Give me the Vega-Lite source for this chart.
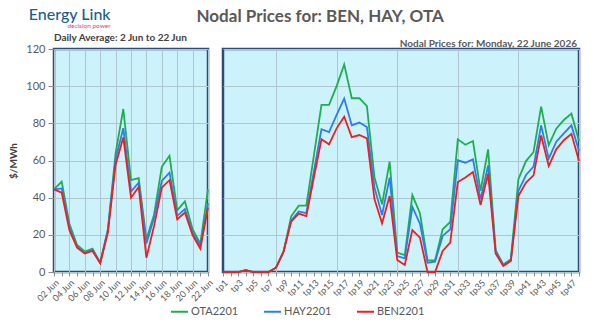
{
  "$schema": "https://vega.github.io/schema/vega-lite/v6.json",
  "background": "white",
  "padding": {"left": 7, "top": 7, "right": 20, "bottom": 2},
  "datasets": {
    "daily": [
      {"day": "02 Jun", "OTA2201": 44.5, "HAY2201": 44.5, "BEN2201": 44.5},
      {"day": "03 Jun", "OTA2201": 48.7, "HAY2201": 45, "BEN2201": 42.7},
      {"day": "04 Jun", "OTA2201": 26, "HAY2201": 24, "BEN2201": 22.5},
      {"day": "05 Jun", "OTA2201": 14.5, "HAY2201": 13.5, "BEN2201": 13.1},
      {"day": "06 Jun", "OTA2201": 11, "HAY2201": 10.2, "BEN2201": 9.9},
      {"day": "07 Jun", "OTA2201": 12.6, "HAY2201": 11.9, "BEN2201": 11.3},
      {"day": "08 Jun", "OTA2201": 5, "HAY2201": 5, "BEN2201": 4.7},
      {"day": "09 Jun", "OTA2201": 23, "HAY2201": 22.5, "BEN2201": 21.2},
      {"day": "10 Jun", "OTA2201": 64, "HAY2201": 60.7, "BEN2201": 57.7},
      {"day": "11 Jun", "OTA2201": 87.7, "HAY2201": 77.4, "BEN2201": 72.4},
      {"day": "12 Jun", "OTA2201": 49.4, "HAY2201": 43.3, "BEN2201": 40},
      {"day": "13 Jun", "OTA2201": 50.5, "HAY2201": 48.1, "BEN2201": 45.8},
      {"day": "14 Jun", "OTA2201": 17.6, "HAY2201": 15.3, "BEN2201": 7.7},
      {"day": "15 Jun", "OTA2201": 31, "HAY2201": 29.3, "BEN2201": 24.8},
      {"day": "16 Jun", "OTA2201": 56.6, "HAY2201": 49, "BEN2201": 45.4},
      {"day": "17 Jun", "OTA2201": 62.5, "HAY2201": 53.5, "BEN2201": 49.4},
      {"day": "18 Jun", "OTA2201": 33.2, "HAY2201": 30.2, "BEN2201": 28.4},
      {"day": "19 Jun", "OTA2201": 38, "HAY2201": 33.8, "BEN2201": 32},
      {"day": "20 Jun", "OTA2201": 23, "HAY2201": 21.2, "BEN2201": 19.9},
      {"day": "21 Jun", "OTA2201": 15.3, "HAY2201": 14, "BEN2201": 12.6},
      {"day": "22 Jun", "OTA2201": 44.5, "HAY2201": 37, "BEN2201": 34.7}
    ],
    "periods": [
      {"tp": "tp1", "OTA2201": 0, "HAY2201": 0, "BEN2201": 0},
      {"tp": "tp2", "OTA2201": 0, "HAY2201": 0, "BEN2201": 0},
      {"tp": "tp3", "OTA2201": 0, "HAY2201": 0, "BEN2201": 0},
      {"tp": "tp4", "OTA2201": 1, "HAY2201": 1, "BEN2201": 1},
      {"tp": "tp5", "OTA2201": 0, "HAY2201": 0, "BEN2201": 0},
      {"tp": "tp6", "OTA2201": 0, "HAY2201": 0, "BEN2201": 0},
      {"tp": "tp7", "OTA2201": 0, "HAY2201": 0, "BEN2201": 0},
      {"tp": "tp8", "OTA2201": 2.3, "HAY2201": 2.3, "BEN2201": 2.3},
      {"tp": "tp9", "OTA2201": 11, "HAY2201": 11, "BEN2201": 11},
      {"tp": "tp10", "OTA2201": 30, "HAY2201": 27.8, "BEN2201": 27.1},
      {"tp": "tp11", "OTA2201": 35.7, "HAY2201": 32.6, "BEN2201": 31.4},
      {"tp": "tp12", "OTA2201": 35.7, "HAY2201": 31.7, "BEN2201": 30.1},
      {"tp": "tp13", "OTA2201": 62.8, "HAY2201": 54.3, "BEN2201": 50.8},
      {"tp": "tp14", "OTA2201": 89.9, "HAY2201": 76.8, "BEN2201": 71.4},
      {"tp": "tp15", "OTA2201": 89.9, "HAY2201": 75.3, "BEN2201": 68.7},
      {"tp": "tp16", "OTA2201": 100, "HAY2201": 84.5, "BEN2201": 77.3},
      {"tp": "tp17", "OTA2201": 111.7, "HAY2201": 93.3, "BEN2201": 83.6},
      {"tp": "tp18", "OTA2201": 93.5, "HAY2201": 78.9, "BEN2201": 72.6},
      {"tp": "tp19", "OTA2201": 93.5, "HAY2201": 80.4, "BEN2201": 73.7},
      {"tp": "tp20", "OTA2201": 89.3, "HAY2201": 78, "BEN2201": 71.9},
      {"tp": "tp21", "OTA2201": 50.8, "HAY2201": 45.4, "BEN2201": 39.1},
      {"tp": "tp22", "OTA2201": 36.4, "HAY2201": 30.7, "BEN2201": 26.2},
      {"tp": "tp23", "OTA2201": 59.4, "HAY2201": 50.8, "BEN2201": 40.9},
      {"tp": "tp24", "OTA2201": 10.4, "HAY2201": 8.6, "BEN2201": 6.5},
      {"tp": "tp25", "OTA2201": 9.1, "HAY2201": 7.4, "BEN2201": 3.8},
      {"tp": "tp26", "OTA2201": 41.4, "HAY2201": 35, "BEN2201": 22.6},
      {"tp": "tp27", "OTA2201": 31.6, "HAY2201": 26, "BEN2201": 18.5},
      {"tp": "tp28", "OTA2201": 6.3, "HAY2201": 5, "BEN2201": 0},
      {"tp": "tp29", "OTA2201": 6.3, "HAY2201": 5.6, "BEN2201": 0},
      {"tp": "tp30", "OTA2201": 23, "HAY2201": 19.4, "BEN2201": 11.3},
      {"tp": "tp31", "OTA2201": 26.9, "HAY2201": 23, "BEN2201": 15.8},
      {"tp": "tp32", "OTA2201": 71.4, "HAY2201": 60.1, "BEN2201": 48.4},
      {"tp": "tp33", "OTA2201": 68.5, "HAY2201": 58.8, "BEN2201": 50.8},
      {"tp": "tp34", "OTA2201": 70.5, "HAY2201": 60.6, "BEN2201": 53.8},
      {"tp": "tp35", "OTA2201": 43.6, "HAY2201": 39.1, "BEN2201": 36.1},
      {"tp": "tp36", "OTA2201": 66, "HAY2201": 57.4, "BEN2201": 52.9},
      {"tp": "tp37", "OTA2201": 11.7, "HAY2201": 10.9, "BEN2201": 9.9},
      {"tp": "tp38", "OTA2201": 4.1, "HAY2201": 3.8, "BEN2201": 3.2},
      {"tp": "tp39", "OTA2201": 6.8, "HAY2201": 6.3, "BEN2201": 5.9},
      {"tp": "tp40", "OTA2201": 49.9, "HAY2201": 43.6, "BEN2201": 40.9},
      {"tp": "tp41", "OTA2201": 59.7, "HAY2201": 52.2, "BEN2201": 48.1},
      {"tp": "tp42", "OTA2201": 64.6, "HAY2201": 56.7, "BEN2201": 52},
      {"tp": "tp43", "OTA2201": 89, "HAY2201": 78.9, "BEN2201": 73.5},
      {"tp": "tp44", "OTA2201": 68.3, "HAY2201": 61, "BEN2201": 57},
      {"tp": "tp45", "OTA2201": 77.1, "HAY2201": 70.1, "BEN2201": 66},
      {"tp": "tp46", "OTA2201": 81.8, "HAY2201": 74.6, "BEN2201": 70.9},
      {"tp": "tp47", "OTA2201": 85.2, "HAY2201": 78.9, "BEN2201": 74.4},
      {"tp": "tp48", "OTA2201": 70.5, "HAY2201": 65.1, "BEN2201": 59.7}
    ]
  },
  "title": {
    "text": "Energy Link",
    "subtitle": "decision power",
    "anchor": "start",
    "frame": "bounds",
    "align": "right",
    "dx": 103,
    "offset": -22,
    "font": "Lato",
    "fontSize": 16,
    "fontWeight": 500,
    "color": "#1F5C8B",
    "subtitleFont": "Lato",
    "subtitleFontSize": 6.5,
    "subtitleColor": "#E0457B",
    "subtitlePadding": 0
  },
  "vconcat": [
    {
      "title": {
        "text": "Nodal Prices for: BEN, HAY, OTA",
        "anchor": "middle",
        "frame": "bounds",
        "dx": 23,
        "offset": 6,
        "font": "Lato",
        "fontSize": 17,
        "fontWeight": "bold",
        "color": "#595959"
      },
      "spacing": -4,
      "hconcat": [
        {
          "width": 154,
          "height": 223,
          "data": {"name": "daily"},
          "transform": [{"fold": ["OTA2201", "HAY2201", "BEN2201"], "as": ["series", "price"]}],
          "title": {
            "text": "Daily Average: 2 Jun to 22 Jun",
            "anchor": "start",
            "frame": "group",
            "offset": 0,
            "fontSize": 10,
            "fontWeight": "bold",
            "color": "#404040"
          },
          "view": {"fill": "#CCF3FB", "stroke": "#2F4A78", "strokeWidth": 2.5},
          "mark": {"type": "line", "strokeWidth": 1.8},
          "encoding": {
            "x": {
              "field": "day",
              "type": "ordinal",
              "sort": null,
              "scale": {"padding": 0},
              "axis": {
                "title": null,
                "labelAngle": -45,
                "labelFontSize": 9,
                "labelExpr": "parseInt(substring(datum.value,0,2)) % 2 == 0 ? datum.value : ''",
                "grid": true,
                "gridOpacity": {"condition": {"test": "parseInt(substring(datum.value,0,2)) % 2 == 0", "value": 1}, "value": 0},
                "tickSize": 4
              }
            },
            "y": {
              "field": "price",
              "type": "quantitative",
              "scale": {"domain": [0, 120], "nice": false},
              "axis": {
                "title": "$/MWh",
                "titleFontSize": 10,
                "titleFontWeight": "bold",
                "titleColor": "#404040",
                "titlePadding": 7,
                "values": [0, 20, 40, 60, 80, 100, 120],
                "labelFontSize": 11,
                "tickSize": 6,
                "labelPadding": 3
              }
            },
            "color": {
              "field": "series",
              "type": "nominal",
              "scale": {"domain": ["OTA2201", "HAY2201", "BEN2201"], "range": ["#1DAF4E", "#2A7DF4", "#F01E1E"]},
              "legend": {"title": null}
            }
          }
        },
        {
          "width": 356,
          "height": 223,
          "data": {"name": "periods"},
          "transform": [{"fold": ["OTA2201", "HAY2201", "BEN2201"], "as": ["series", "price"]}],
          "title": {
            "text": "Nodal Prices for: Monday, 22 June 2026",
            "anchor": "end",
            "frame": "group",
            "offset": 0,
            "dx": -2,
            "fontSize": 10,
            "fontWeight": "bold",
            "color": "#595959"
          },
          "view": {"fill": "#CCF3FB", "stroke": "#2F4A78", "strokeWidth": 2.5},
          "mark": {"type": "line", "strokeWidth": 1.8},
          "encoding": {
            "x": {
              "field": "tp",
              "type": "ordinal",
              "sort": null,
              "scale": {"padding": 0},
              "axis": {
                "title": null,
                "labelAngle": -45,
                "labelFontSize": 9,
                "labelExpr": "parseInt(substring(datum.value,2)) % 2 == 1 ? datum.value : ''",
                "grid": true,
                "gridOpacity": {"condition": {"test": "parseInt(substring(datum.value,2)) % 8 == 0", "value": 1}, "value": 0},
                "tickSize": 4
              }
            },
            "y": {
              "field": "price",
              "type": "quantitative",
              "scale": {"domain": [0, 120], "nice": false},
              "axis": {
                "title": null,
                "values": [0, 20, 40, 60, 80, 100, 120],
                "labels": false,
                "ticks": false
              }
            },
            "color": {
              "field": "series",
              "type": "nominal",
              "scale": {"domain": ["OTA2201", "HAY2201", "BEN2201"], "range": ["#1DAF4E", "#2A7DF4", "#F01E1E"]},
              "legend": {"title": null}
            }
          }
        }
      ]
    }
  ],
  "config": {
    "font": "Lato",
    "title": {"font": "Lato"},
    "axis": {
      "labelFont": "Lato",
      "titleFont": "Lato",
      "labelColor": "#595959",
      "domain": false,
      "tickColor": "#8C8C8C",
      "gridColor": "#AFC6CF",
      "gridWidth": 1
    },
    "legend": {
      "orient": "bottom",
      "direction": "horizontal",
      "layout": {"bottom": {"anchor": "middle"}},
      "labelFont": "Lato",
      "labelFontSize": 11,
      "labelColor": "#595959",
      "symbolType": "stroke",
      "symbolStrokeWidth": 2,
      "symbolSize": 289,
      "columnPadding": 21,
      "labelOffset": 2,
      "offset": -3
    }
  }
}
